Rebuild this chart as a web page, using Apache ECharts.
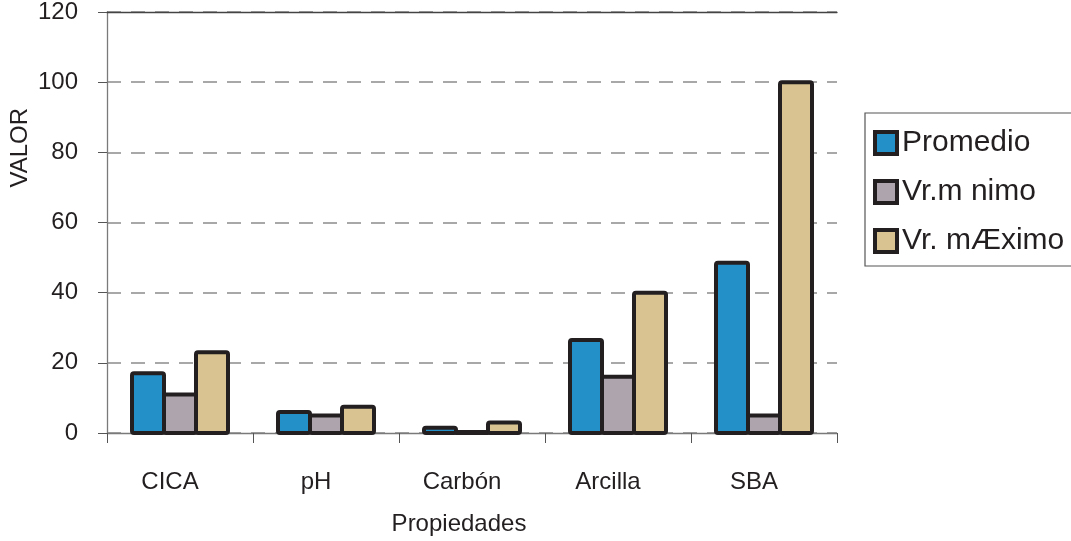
<!DOCTYPE html>
<html>
<head>
<meta charset="utf-8">
<script src="https://cdn.jsdelivr.net/npm/echarts@6/dist/echarts.min.js"></script>
<style>
  html, body { margin: 0; padding: 0; background: #fff; }
  #chart { width: 1071px; height: 541px; }
</style>
</head>
<body>
<div id="chart"></div>
<script>
// Soil properties: average, minimum and maximum values
const categories = ['CICA', 'pH', 'Carbón', 'Arcilla', 'SBA'];
const seriesNames = ['Promedio', 'Vr.m nimo', 'Vr. mÆximo'];
const promedio = [17, 6, 1.5, 26.5, 48.5];
const minimo = [11, 5, 0.3, 16, 5];
const maximo = [23, 7.5, 3, 40, 100];
const yTicks = [0, 20, 40, 60, 80, 100, 120];

const colors = ['#2490c8', '#aea4ad', '#d9c491'];
const edge = '#231f20';
const font = 'Liberation Sans, Arial, sans-serif';
const BAR_W = 32;          // bar width in px (stroke centred on the edges)
const BORDER = 4;

const chart = echarts.init(document.getElementById('chart'));

// Bars are drawn as custom rects so the outline sits centred on the bar edge,
// letting neighbouring bars share one outline.
function barSeries(name, values, color, slot) {
  return {
    name: name,
    type: 'custom',
    data: values.map((v, i) => [i, v]),
    encode: { x: 0, y: 1 },
    itemStyle: { color: color, borderColor: edge, borderWidth: BORDER },
    z: 3,
    renderItem: function (params, api) {
      const top = api.coord([api.value(0), api.value(1)]);
      const base = api.coord([api.value(0), 0]);
      const cx = top[0] + (slot - 1) * BAR_W;
      return {
        type: 'rect',
        shape: { x: cx - BAR_W / 2, y: top[1], width: BAR_W, height: base[1] - top[1], r: 2 },
        style: { fill: color, stroke: edge, lineWidth: BORDER, lineJoin: 'round' }
      };
    }
  };
}

chart.setOption({
  animation: false,
  textStyle: { fontFamily: font, color: edge },
  grid: { left: 107, right: 234, top: 12, bottom: 108 },
  legend: {
    orient: 'vertical',
    left: 865,
    top: 113,
    padding: [15, 8, 10, 8],
    itemWidth: 22,
    itemHeight: 22,
    itemGap: 19,
    icon: 'rect',
    borderColor: '#555',
    borderWidth: 1.2,
    itemStyle: { borderWidth: 4, borderColor: edge },
    textStyle: { fontSize: 30, lineHeight: 24, color: edge, fontFamily: font },
    data: seriesNames
  },
  xAxis: [{
    type: 'category',
    data: categories,
    axisLine: { lineStyle: { color: '#7a7a7a', width: 1.3 } },
    axisTick: { show: true, length: 10, lineStyle: { color: '#555' } },
    axisLabel: { fontSize: 24, color: edge, margin: 37, padding: [0, 20, 0, 0] },
    name: 'Propiedades',
    nameLocation: 'middle',
    nameGap: 79,
    nameTextStyle: { fontSize: 24, color: edge, padding: [0, 26, 0, 0] }
  }, {
    type: 'category',
    data: categories,
    position: 'top',
    axisLine: { show: true, onZero: false, lineStyle: { color: '#444', width: 1.3 } },
    axisTick: { show: false },
    axisLabel: { show: false }
  }],
  yAxis: {
    type: 'value',
    min: yTicks[0],
    max: yTicks[yTicks.length - 1],
    interval: 20,
    axisLine: { show: true, lineStyle: { color: '#7a7a7a', width: 1.3 } },
    axisTick: { show: true, length: 9, lineStyle: { color: '#555' } },
    axisLabel: { fontSize: 24, color: edge, margin: 29 },
    splitLine: {
      show: true,
      lineStyle: { color: '#8c8c8c', width: 1.5, type: [14, 10] }
    }
  },
  graphic: [{
    type: 'text',
    left: 8,
    top: 108,
    rotation: Math.PI / 2,
    style: { text: 'VALOR', font: '24px ' + font, fill: edge }
  }],
  series: [
    barSeries(seriesNames[0], promedio, colors[0], 0),
    barSeries(seriesNames[1], minimo, colors[1], 1),
    barSeries(seriesNames[2], maximo, colors[2], 2)
  ]
});
</script>
</body>
</html>
